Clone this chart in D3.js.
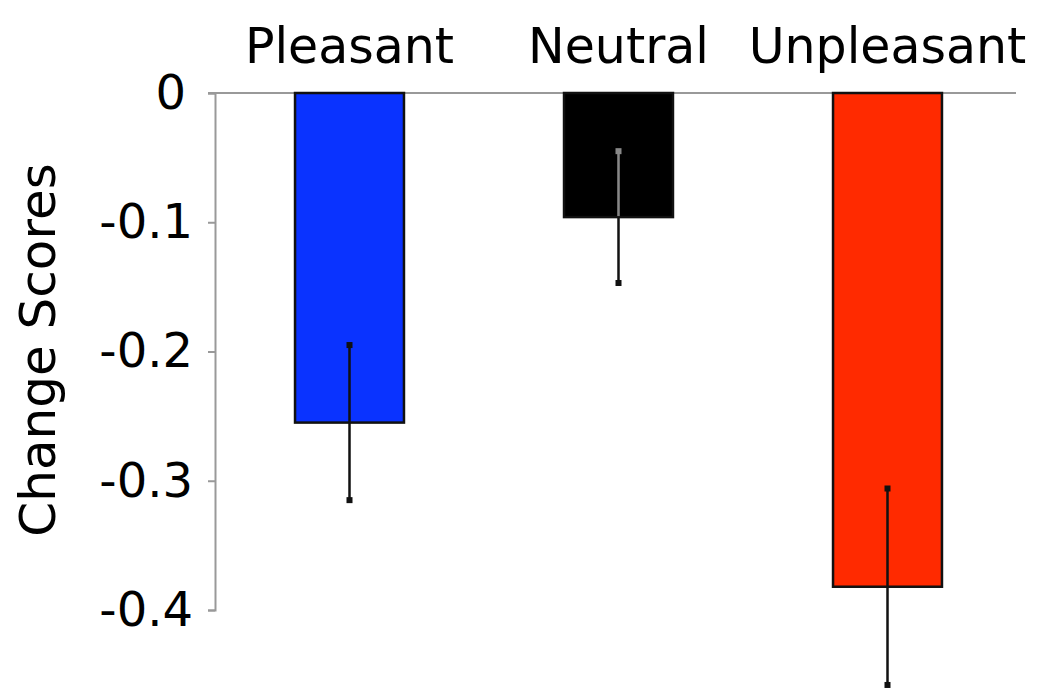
<!DOCTYPE html>
<html>
<head>
<meta charset="utf-8">
<script src="https://cdn.jsdelivr.net/npm/d3@7"></script>
<style>
  body { margin: 0; background: #fff; }
  text { font-family: "DejaVu Sans", sans-serif; fill: #000; }
</style>
</head>
<body>
<div class="container"></div>
<script>
var width = 1050;
var height = 692;

// data
var categories = ["Pleasant", "Neutral", "Unpleasant"];
var means = [-0.255, -0.096, -0.382];
var errors = [0.060, 0.051, 0.076];
var yTicks = [0, -0.1, -0.2, -0.3, -0.4];
var fills = ["#0a33ff", "#000000", "#ff2a00"];

var data = categories.map((c, i) => ({cat: c, mean: means[i], err: errors[i], fill: fills[i]}));

var xScale = d3.scaleBand().domain(categories).range([215, 1022])
  .paddingInner(0.595).paddingOuter(0.2975);
var yScale = d3.scaleLinear().domain([0, -0.4]).range([93, 610]);

var svg = d3.select(".container").append("svg")
  .attr("width", width).attr("height", height);

// y axis
var yAxis = d3.axisLeft(yScale).tickValues(yTicks)
  .tickFormat(d => d === 0 ? "0" : d3.format(".1f")(d).replace("−", "-"))
  .tickSize(7).tickPadding(15);
var gy = svg.append("g").attr("transform", "translate(215,0)").call(yAxis);
gy.select(".domain").attr("stroke", "#999").attr("stroke-width", 2);
gy.selectAll(".tick line").attr("stroke", "#999").attr("stroke-width", 2);
gy.selectAll(".tick text").style("font-size", "48px").attr("fill", "#000");
gy.selectAll(".tick text").filter(d => d === 0).attr("x", -29);

// zero line
svg.append("line")
  .attr("x1", 208).attr("x2", 1016)
  .attr("y1", yScale(0)).attr("y2", yScale(0))
  .attr("stroke", "#999").attr("stroke-width", 2);

// bars
svg.selectAll(".bar").data(data).enter().append("rect")
  .attr("class", "bar")
  .attr("x", d => xScale(d.cat))
  .attr("y", yScale(0))
  .attr("width", xScale.bandwidth())
  .attr("height", d => yScale(d.mean) - yScale(0))
  .attr("fill", d => d.fill)
  .attr("stroke", "#111").attr("stroke-width", 2.5);

// error bars
var cx = d => xScale(d.cat) + xScale.bandwidth() / 2;
svg.selectAll(".err").data(data).enter().append("line")
  .attr("class", "err")
  .attr("x1", cx).attr("x2", cx)
  .attr("y1", d => yScale(d.mean + d.err))
  .attr("y2", d => yScale(d.mean - d.err))
  .attr("stroke", "#111").attr("stroke-width", 2.5);

// lighter part of the bar inside a black bar
svg.selectAll(".err-in").data(data.filter(d => d.fill === "#000000")).enter().append("line")
  .attr("class", "err-in")
  .attr("x1", cx).attr("x2", cx)
  .attr("y1", d => yScale(d.mean + d.err))
  .attr("y2", d => yScale(d.mean) - 1)
  .attr("stroke", "#888").attr("stroke-width", 2.5);

var capSize = 6;
[1, -1].forEach(function(s) {
  svg.selectAll(".cap" + s).data(data).enter().append("rect")
    .attr("x", d => cx(d) - capSize / 2)
    .attr("y", d => yScale(d.mean + s * d.err) - capSize / 2)
    .attr("width", capSize).attr("height", capSize)
    .attr("fill", d => (s === 1 && d.fill === "#000000") ? "#888" : "#111");
});

// category labels
svg.selectAll(".cat").data(data).enter().append("text")
  .attr("class", "cat")
  .attr("x", cx).attr("y", 63)
  .attr("text-anchor", "middle")
  .style("font-size", "49px")
  .text(d => d.cat);

// y axis title
svg.append("text")
  .attr("transform", "translate(55,350) rotate(-90)")
  .attr("text-anchor", "middle")
  .style("font-size", "50px")
  .text("Change Scores");
</script>
</body>
</html>
